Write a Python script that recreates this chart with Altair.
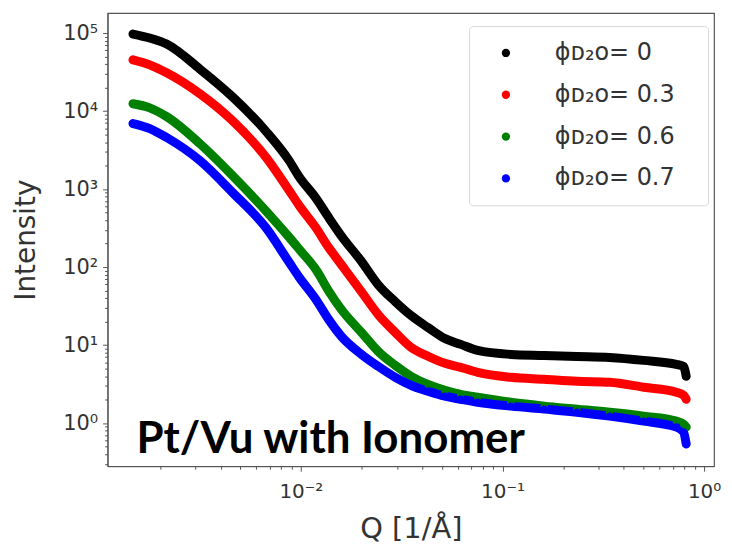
import altair as alt
import pandas as pd

# ---- data ----
q_values = [0.00147, 0.00178, 0.00216, 0.00315, 0.00457, 0.00673, 0.00873, 0.00978, 0.0119, 0.0137, 0.0159,
            0.0200, 0.0242, 0.0294, 0.0352, 0.0427, 0.0518, 0.0621, 0.0753, 0.110, 0.161, 0.234, 0.340,
            0.501, 0.728, 0.790, 0.815]
i_black = [9.71e4, 8.63e4, 7.24e4, 3.47e4, 1.53e4, 5.46e3, 2.33e3, 1.45e3, 760, 437, 250,
           118, 59.3, 36.0, 23.9, 16.8, 12.1, 10.2, 8.53, 7.59, 7.37, 7.16, 6.95,
           6.37, 5.66, 5.33, 3.98]
i_red = [4.53e4, 3.91e4, 3.09e4, 1.67e4, 7.54e3, 2.54e3, 966, 622, 316, 180, 107,
         48.0, 24.6, 14.5, 9.32, 7.20, 5.83, 5.18, 4.47, 3.86, 3.64, 3.43, 3.33,
         2.88, 2.49, 2.28, 2.02]
i_green = [1.24e4, 1.10e4, 8.48e3, 3.84e3, 1.50e3, 521, 243, 171, 92.1, 50.0, 28.5,
           14.5, 8.28, 5.49, 3.98, 3.14, 2.64, 2.34, 2.15, 1.85, 1.65, 1.51, 1.38,
           1.23, 1.06, 0.97, 0.89]
i_blue = [6.91e3, 5.97e3, 4.58e3, 2.33e3, 910, 316, 116, 75.0, 38.2, 21.5, 12.9,
          7.59, 5.33, 3.86, 3.05, 2.56, 2.21, 2.02, 1.85, 1.65, 1.51, 1.38, 1.23,
          1.06, 0.89, 0.77, 0.54]

series_labels = ["ϕᴅ₂ᴏ= 0", "ϕᴅ₂ᴏ= 0.3", "ϕᴅ₂ᴏ= 0.6", "ϕᴅ₂ᴏ= 0.7"]
series_colors = ["#000000", "#ff0000", "#008000", "#0000ff"]
series_values = [i_black, i_red, i_green, i_blue]

x_major = [0.01, 0.1, 1]
x_major_labels = ["10⁻²", "10⁻¹", "10⁰"]
y_major = [1, 10, 100, 1000, 10000, 100000]
y_major_labels = ["10⁰", "10¹", "10²", "10³", "10⁴", "10⁵"]
x_minor = [m * 10.0 ** k for k in (-3, -2, -1) for m in range(2, 10)]
y_minor = [m * 10.0 ** k for k in range(-1, 5) for m in range(2, 10)]
annotation = "Pt/Vu with Ionomer"

rows = []
for k, (lab, col, vals) in enumerate(zip(series_labels, series_colors, series_values)):
    for q, v in zip(q_values, vals):
        rows.append({"Q": q, "I": v, "phi": lab, "hex": col, "k": k})
df = pd.DataFrame(rows)


def label_expr(values, labels):
    vs = "[" + ",".join(repr(v) for v in values) + "]"
    ls = "[" + ",".join("'" + l + "'" for l in labels) + "]"
    return f"indexof({vs}, datum.value) >= 0 ? {ls}[indexof({vs}, datum.value)] : ''"


def major_test(values):
    vs = "[" + ",".join(repr(v) for v in values) + "]"
    return f"indexof({vs}, datum.value) >= 0"


x_vals = sorted(x_major + x_minor)
y_vals = sorted(y_major + [v for v in y_minor if 0.28 <= v <= 1.8e5])

x_scale = alt.Scale(type="log", domain=[1.1e-3, 1.12], nice=False)
y_scale = alt.Scale(type="log", domain=[0.28, 1.8e5], nice=False)

x_axis = alt.Axis(
    title="Q [1/Å]", values=x_vals, labelExpr=label_expr(x_major, x_major_labels),
    labelOverlap=False, labelFlush=False, grid=False,
    tickSize={"condition": {"test": major_test(x_major), "value": 5}, "value": 3},
    labelFontSize=20, labelFont="DejaVu Sans", labelColor="#333333", labelPadding=10,
    titleFontSize=29, titleFont="DejaVu Sans", titleFontWeight="normal", titleColor="#333333",
    titlePadding=14, tickColor="#555555", domainColor="#555555",
)
y_axis = alt.Axis(
    title="Intensity", values=y_vals, labelExpr=label_expr(y_major, y_major_labels),
    labelOverlap=False, labelFlush=False, grid=False,
    tickSize={"condition": {"test": major_test(y_major), "value": 5}, "value": 3},
    labelFontSize=21, labelFont="DejaVu Sans", labelColor="#333333", labelPadding=5,
    titleFontSize=28, titleFont="DejaVu Sans", titleFontWeight="normal", titleColor="#333333",
    titlePadding=22, tickColor="#555555", domainColor="#555555",
)

color_scale = alt.Scale(domain=series_labels, range=series_colors)

base = alt.Chart(df)
lines = base.mark_line(strokeWidth=9, strokeCap="round", strokeJoin="round", interpolate="monotone").encode(
    x=alt.X("Q:Q", scale=x_scale, axis=x_axis),
    y=alt.Y("I:Q", scale=y_scale, axis=y_axis),
    color=alt.Color("hex:N", scale=None),
    detail="phi:N",
    order=alt.Order("Q:Q"),
)
points = base.mark_point(filled=True, size=55, opacity=1).encode(
    x=alt.X("Q:Q", scale=x_scale, axis=x_axis),
    y=alt.Y("I:Q", scale=y_scale, axis=y_axis),
    color=alt.Color(
        "phi:N", scale=color_scale,
        legend=alt.Legend(
            title=None, orient="none", legendX=363, legendY=13,
            labelFontSize=24, labelFont="DejaVu Sans", labelColor="#333333",
            labelExpr="datum.label + '\u2800'",
            symbolType="circle", symbolSize=70, symbolStrokeWidth=0,
            symbolOffset=10, labelOffset=37, rowPadding=18, padding=15,
            strokeColor="#d8d8d8", fillColor="white", cornerRadius=4,
        ),
    ),
    order=alt.Order("k:Q"),
)
text = alt.Chart(pd.DataFrame({"t": [annotation]})).mark_text(
    align="left", baseline="alphabetic", font="Lato", fontWeight="bold", fontSize=44, color="black"
).encode(text="t:N", x=alt.value(29), y=alt.value(442))

chart = alt.layer(lines, points, text).properties(
    width=609, height=455,
    padding={"left": 100, "top": 4, "right": 10, "bottom": 84},
    autosize=alt.AutoSizeParams(type="none"),
).configure_view(stroke="#555555", strokeWidth=1.2)

chart.save("out.html", embed_options={"renderer": "svg", "actions": False})
